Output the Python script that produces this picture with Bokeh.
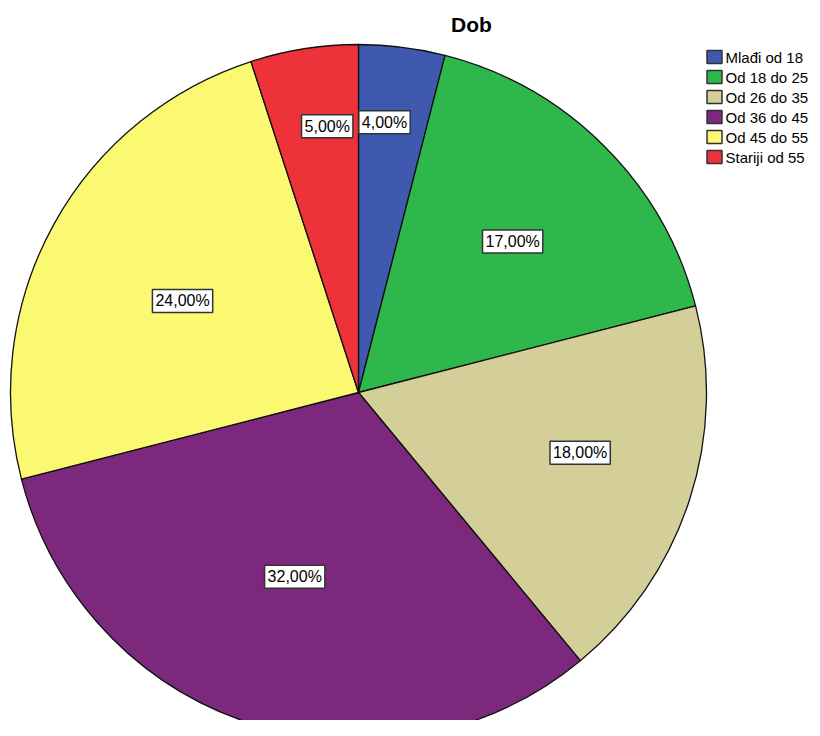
import math
from bokeh.plotting import figure
from bokeh.models import ColumnDataSource, Range1d
from bokeh.core.properties import value
from bokeh.embed import file_html
from bokeh.resources import INLINE

# ---- data ----
title_text = "Dob"
categories = ["Mlađi od 18", "Od 18 do 25", "Od 26 do 35", "Od 36 do 45", "Od 45 do 55", "Stariji od 55"]
percents = [4.0, 17.0, 18.0, 32.0, 24.0, 5.0]
colors = ["#3E59AD", "#2EB84B", "#D4CF98", "#7C287C", "#FBF972", "#EE3239"]

# ---- layout (pixels, figure coords with y measured upward) ----
W, H = 812, 720
cx, cy = 358, H - 392
R = 348
label_r_frac = [0.78, 0.62, 0.66, 0.56, 0.57, 0.77]
label_ang_adj = [-1.7, 0.6, -2.8, 1.1, -1.3, 2.3]

total = sum(percents)
starts, ends, lx, ly, ltxt = [], [], [], [], []
cum = 0.0
for i, v in enumerate(percents):
    a0 = cum / total
    a1 = (cum + v) / total
    starts.append(math.pi / 2 - 2 * math.pi * a1)
    ends.append(math.pi / 2 - 2 * math.pi * a0)
    mid_deg = 360 * (a0 + a1) / 2 + label_ang_adj[i]
    r = R * label_r_frac[i]
    lx.append(cx + r * math.sin(math.radians(mid_deg)))
    ly.append(cy + r * math.cos(math.radians(mid_deg)))
    ltxt.append(("%.2f%%" % v).replace(".", ","))
    cum += v

src = ColumnDataSource(dict(start=starts, end=ends, color=colors, cat=categories,
                            lx=lx, ly=ly, ltxt=ltxt))

p = figure(width=W, height=H, output_backend="svg", toolbar_location=None,
           x_range=Range1d(0, W), y_range=Range1d(0, H), min_border=0)
p.axis.visible = False
p.grid.visible = False
p.outline_line_color = None
p.background_fill_color = "white"
p.border_fill_color = "white"

p.wedge(x=cx, y=cy, radius=R, start_angle="start", end_angle="end", direction="anticlock",
        fill_color="color", line_color="#111111", line_width=1.3, source=src)

p.text(x="lx", y="ly", text="ltxt", source=src, text_align="center", text_baseline="middle",
       text_font=value("Liberation Sans"), text_font_size="16px", text_color="black",
       background_fill_color="white", border_line_color="#333333", border_line_width=1.5,
       padding=3)

# title
p.text(x=[471], y=[H - 24], text=[title_text], text_align="center", text_baseline="middle",
       text_font=value("Liberation Sans"), text_font_size="21px", text_font_style="bold",
       text_color="black")

# legend
leg_x = 714
leg_y0 = H - 56.5
step = 20
ys = [leg_y0 - i * step for i in range(len(categories))]
lsrc = ColumnDataSource(dict(x=[leg_x] * len(categories), tx=[leg_x + 11] * len(categories),
                             y=ys, color=colors, cat=categories))
p.rect(x="x", y="y", width=15, height=13, fill_color="color", line_color="#333333",
       line_width=1.5, source=lsrc)
p.text(x="tx", y="y", text="cat", source=lsrc, text_align="left", text_baseline="middle",
       text_font=value("Liberation Sans"), text_font_size="15px", text_color="black")

open("out.html", "w").write(file_html(p, INLINE))
